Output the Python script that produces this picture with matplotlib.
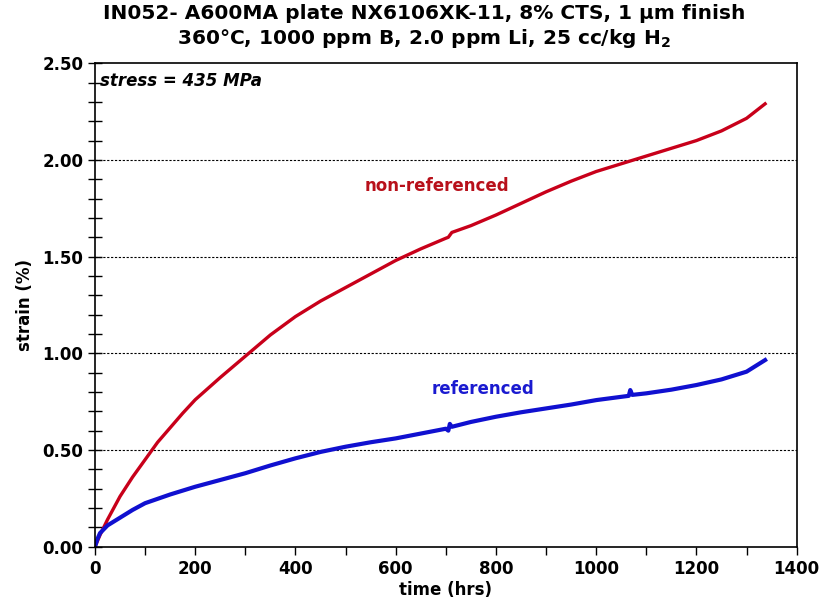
import matplotlib
matplotlib.use("Agg")
import matplotlib.pyplot as plt
from matplotlib.ticker import MultipleLocator

# strain vs time
t_nonref = [0, 10, 25, 50, 75, 100, 125, 150, 175, 200, 250, 300, 350, 400, 450,
            500, 550, 600, 650, 700, 705, 712, 750, 800, 850, 900, 950, 1000,
            1050, 1100, 1150, 1200, 1250, 1300, 1337]
s_nonref = [0, 0.06, 0.14, 0.26, 0.36, 0.45, 0.54, 0.615, 0.69, 0.76, 0.875,
            0.985, 1.095, 1.19, 1.27, 1.34, 1.41, 1.48, 1.54, 1.595, 1.60, 1.625,
            1.66, 1.715, 1.775, 1.835, 1.89, 1.94, 1.98, 2.02, 2.06, 2.10, 2.15,
            2.215, 2.29]

t_ref = [0, 5, 10, 25, 50, 75, 100, 150, 200, 250, 300, 350, 400, 450, 500, 550,
         600, 650, 700, 705, 708, 712, 750, 800, 850, 900, 950, 1000, 1050, 1065,
         1068, 1072, 1100, 1150, 1200, 1250, 1300, 1337]
s_ref = [0, 0.04, 0.07, 0.11, 0.15, 0.19, 0.225, 0.27, 0.31, 0.345, 0.38, 0.42,
         0.457, 0.49, 0.517, 0.54, 0.56, 0.585, 0.61, 0.60, 0.635, 0.62, 0.645,
         0.672, 0.695, 0.715, 0.735, 0.758, 0.775, 0.78, 0.81, 0.785, 0.793,
         0.812, 0.836, 0.865, 0.905, 0.965]

title = ("IN052- A600MA plate NX6106XK-11, 8% CTS, 1 \u03bcm finish\n"
         "360\u00b0C, 1000 ppm B, 2.0 ppm Li, 25 cc/kg H$_\\mathbf{2}$")

fig = plt.figure(figsize=(8.23, 6.09), dpi=100)
ax = fig.add_axes([0.1154, 0.1023, 0.8526, 0.7939])

ax.plot(t_nonref, s_nonref, color="#c8001a", lw=2.4)
ax.plot(t_ref, s_ref, color="#1010d0", lw=3)

ax.set_xlim(0, 1400)
ax.set_ylim(0, 2.5)
ax.xaxis.set_major_locator(MultipleLocator(200))
ax.xaxis.set_minor_locator(MultipleLocator(100))
ax.yaxis.set_major_locator(MultipleLocator(0.5))
ax.yaxis.set_minor_locator(MultipleLocator(0.1))
ax.yaxis.set_major_formatter(lambda v, p: f"{v:.2f}")

ax.tick_params(axis="x", which="both", direction="out", length=6, width=1)
ax.tick_params(axis="y", which="both", direction="inout", length=10, width=1)
for lab in ax.get_xticklabels() + ax.get_yticklabels():
    lab.set_fontweight("bold")
    lab.set_fontsize(12)

for v in [0.5, 1.0, 1.5, 2.0]:
    ax.axhline(v, color="black", lw=0.8, ls=(0, (2, 1.5)), zorder=0)

for sp in ax.spines.values():
    sp.set_linewidth(1.2)

ax.text(10, 2.41, "stress = 435 MPa", fontsize=12, fontweight="bold",
        fontstyle="italic", ha="left", va="center")
ax.text(683, 1.865, "non-referenced", color="#b8101a", fontsize=12,
        fontweight="bold", ha="center", va="center")
ax.text(775, 0.815, "referenced", color="#1a1ad0", fontsize=12,
        fontweight="bold", ha="center", va="center")

ax.set_xlabel("time (hrs)", fontsize=12, fontweight="bold", labelpad=2)
ax.set_ylabel("strain (%)", fontsize=12, fontweight="bold", labelpad=6)
fig.suptitle(title, fontsize=14.5, fontweight="bold", x=0.515, y=0.993,
             linespacing=1.2)

fig.savefig("out.png", dpi=100)
